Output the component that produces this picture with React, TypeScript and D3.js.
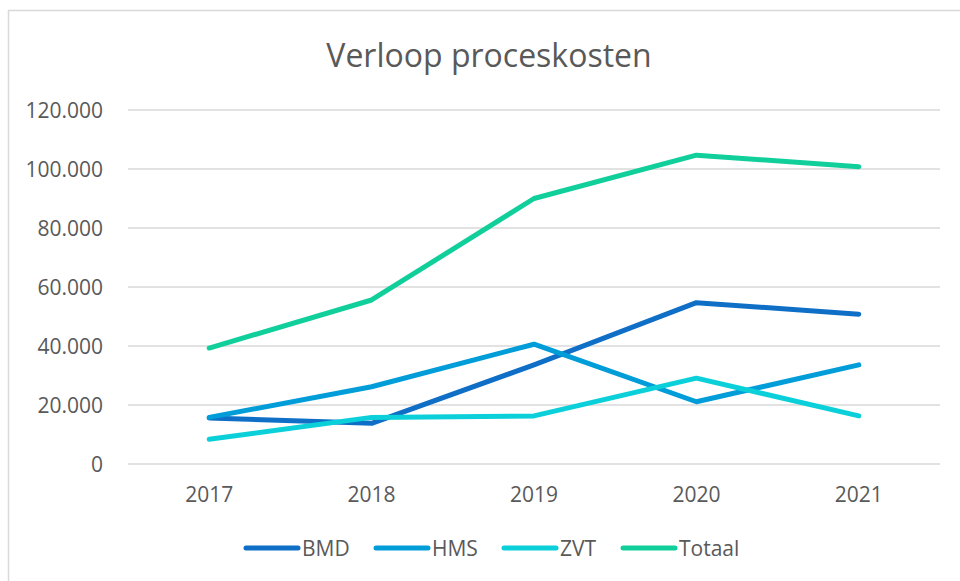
import React, { useEffect, useRef } from 'react'
import * as d3 from 'd3'

const years = ['2017', '2018', '2019', '2020', '2021']
const bmd = [15600, 13800, 33600, 54700, 50800]
const hms = [15800, 26200, 40600, 21100, 33600]
const zvt = [8400, 15800, 16300, 29100, 16300]
const totaal = [39300, 55600, 90000, 104700, 100800]
const seriesNames = ['BMD', 'HMS', 'ZVT', 'Totaal']
const seriesColors = ['#0F6FC6', '#009DD9', '#0BD0D9', '#10CF9B']
const yTicks = [0, 20000, 40000, 60000, 80000, 100000, 120000]

const FONT = "'Open Sans', 'DejaVu Sans', sans-serif"

function App() {
  const ref = useRef<SVGSVGElement | null>(null)

  useEffect(() => {
    const svgWidth = 960
    const svgHeight = 581
    const margin = { top: 110, right: 20, bottom: 117, left: 128 }
    const width = svgWidth - margin.left - margin.right
    const height = svgHeight - margin.top - margin.bottom

    const svg = d3.select(ref.current)
    svg.selectAll('*').remove()
    svg.attr('width', svgWidth).attr('height', svgHeight)

    // chart area border
    svg
      .append('rect')
      .attr('x', 8.5)
      .attr('y', 10.5)
      .attr('width', 970)
      .attr('height', 600)
      .attr('fill', '#fff')
      .attr('stroke', '#D9D9D9')
      .attr('stroke-width', 1.5)

    svg
      .append('text')
      .attr('x', 489)
      .attr('y', 67)
      .attr('text-anchor', 'middle')
      .attr('font-family', FONT)
      .attr('font-size', 32)
      .attr('fill', '#595959')
      .text('Verloop proceskosten')

    const group = svg
      .append('g')
      .attr('transform', `translate(${margin.left}, ${margin.top})`)

    const x = d3.scaleBand<string>().domain(years).range([0, width])
    const y = d3.scaleLinear().domain([0, 120000]).range([height, 0])
    const fmt = d3.formatLocale({
      decimal: ',',
      thousands: '.',
      grouping: [3],
      currency: ['€', ''],
    }).format(',d')

    // gridlines
    group
      .selectAll('line.grid')
      .data(yTicks)
      .enter()
      .append('line')
      .attr('x1', 0)
      .attr('x2', width)
      .attr('y1', d => y(d))
      .attr('y2', d => y(d))
      .attr('stroke', '#D9D9D9')
      .attr('stroke-width', 1.5)

    // Y labels
    group
      .selectAll('text.ylab')
      .data(yTicks)
      .enter()
      .append('text')
      .attr('x', -25)
      .attr('y', d => y(d))
      .attr('dy', '0.36em')
      .attr('text-anchor', 'end')
      .attr('font-family', FONT)
      .attr('font-size', 21)
      .attr('fill', '#595959')
      .text(d => fmt(d))

    // X labels
    group
      .selectAll('text.xlab')
      .data(years)
      .enter()
      .append('text')
      .attr('x', d => (x(d) ?? 0) + x.bandwidth() / 2)
      .attr('y', height + 38)
      .attr('text-anchor', 'middle')
      .attr('font-family', FONT)
      .attr('font-size', 21)
      .attr('fill', '#595959')
      .text(d => d)

    const allSeries = [bmd, hms, zvt, totaal]
    const line = d3
      .line<number>()
      .x((d, i) => (x(years[i]) ?? 0) + x.bandwidth() / 2)
      .y(d => y(d))

    allSeries.forEach((values, i) => {
      group
        .append('path')
        .datum(values)
        .attr('d', line)
        .attr('fill', 'none')
        .attr('stroke', seriesColors[i])
        .attr('stroke-width', 5)
        .attr('stroke-linecap', 'round')
        .attr('stroke-linejoin', 'round')
    })

    // legend
    const legendX = [246, 376, 504, 623]
    const legend = svg.append('g').attr('transform', 'translate(0, 548)')
    seriesNames.forEach((name, i) => {
      legend
        .append('line')
        .attr('x1', legendX[i])
        .attr('x2', legendX[i] + 52)
        .attr('y1', 0)
        .attr('y2', 0)
        .attr('stroke', seriesColors[i])
        .attr('stroke-width', 5)
        .attr('stroke-linecap', 'round')
      legend
        .append('text')
        .attr('x', legendX[i] + 56)
        .attr('y', 0)
        .attr('dy', '0.36em')
        .attr('font-family', FONT)
        .attr('font-size', 21)
        .attr('fill', '#595959')
        .text(name)
    })
  }, [])

  return (
    <svg
      ref={ref}
      style={{ position: 'absolute', left: 0, top: 0, display: 'block' }}
    />
  )
}

export default App
